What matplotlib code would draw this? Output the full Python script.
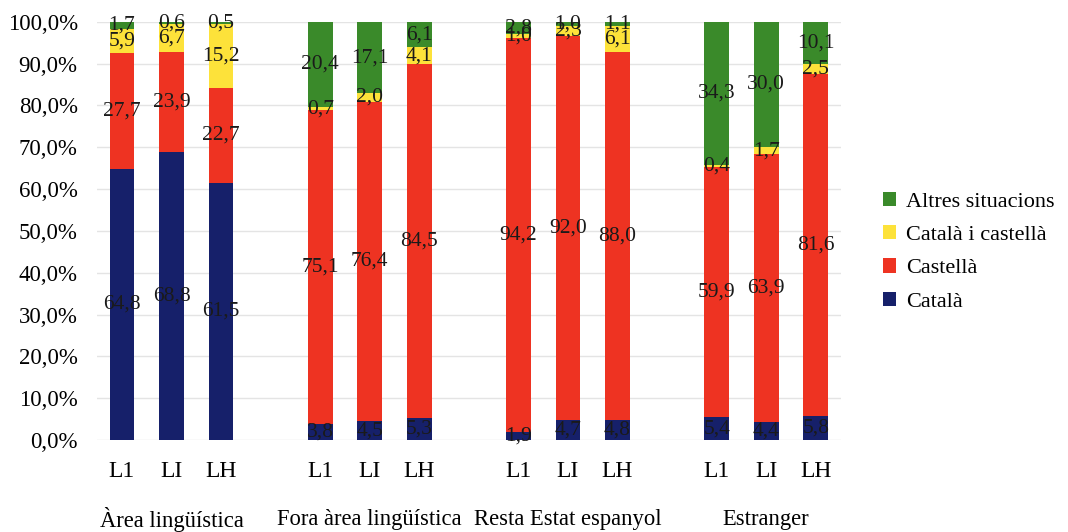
import matplotlib
matplotlib.use('Agg')
import matplotlib.pyplot as plt
from matplotlib.ticker import FuncFormatter

plt.rcParams['font.family'] = ['Liberation Serif', 'DejaVu Serif']

# Llengua segons l'origen: L1, LI, LH per a cada grup
groups = ['Àrea lingüística', 'Fora àrea lingüística', 'Resta Estat espanyol', 'Estranger']
bar_names = ['L1', 'LI', 'LH']

catala = [64.8, 68.8, 61.5,
          3.8, 4.5, 5.3,
          1.9, 4.7, 4.8,
          5.4, 4.4, 5.8]
castella = [27.7, 23.9, 22.7,
            75.1, 76.4, 84.5,
            94.2, 92.0, 88.0,
            59.9, 63.9, 81.6]
cat_i_cast = [5.9, 6.7, 15.2,
              0.7, 2.0, 4.1,
              1.0, 2.3, 6.1,
              0.4, 1.7, 2.5]
altres = [1.7, 0.6, 0.5,
          20.4, 17.1, 6.1,
          2.8, 1.0, 1.1,
          34.3, 30.0, 10.1]

series = [('Català', catala, '#16206a'),
          ('Castellà', castella, '#ee3322'),
          ('Català i castellà', cat_i_cast, '#fde23a'),
          ('Altres situacions', altres, '#3a8a2a')]

# posicions: tres barres per grup i un buit entre grups
xpos = []
for g in range(len(groups)):
    for b in range(len(bar_names)):
        xpos.append(g * 4 + b)

fig = plt.figure(figsize=(10.68, 5.32), dpi=100)
ax = fig.add_axes([0.091, 0.173, 0.696, 0.786])

bottoms = [0.0] * len(xpos)
handles = []
for name, vals, color in series:
    h = ax.bar(xpos, vals, width=0.5, bottom=bottoms, color=color, label=name, zorder=2)
    handles.append(h)
    for i in range(len(xpos)):
        ax.text(xpos[i], bottoms[i] + vals[i] / 2.0, ('%.1f' % vals[i]).replace('.', ','),
                ha='center', va='center', fontsize=15.5, color='#1a1a1a', zorder=3)
        bottoms[i] = bottoms[i] + vals[i]

ax.set_xlim(-0.5, 14.5)
ax.set_ylim(0, 100)
ax.set_yticks(range(0, 101, 10))
ax.yaxis.set_major_formatter(FuncFormatter(lambda v, p: ('%.1f%%' % v).replace('.', ',')))
ax.tick_params(axis='y', length=0, labelsize=16.5, pad=14)
ax.grid(axis='y', color='#e4e4e4', linewidth=1, zorder=0)
for s in ax.spines.values():
    s.set_visible(False)

ax.set_xticks(xpos)
ax.set_xticklabels(bar_names * len(groups), fontsize=17)
ax.tick_params(axis='x', length=0, pad=15)

for g in range(len(groups)):
    ax.text(g * 4 + 1, -0.19, groups[g], transform=ax.get_xaxis_transform(),
            ha='center', va='center', fontsize=16.3)

leg = ax.legend(handles[::-1], [s[0] for s in series][::-1], loc='center left',
                bbox_to_anchor=(1.03, 0.45), frameon=False, fontsize=16,
                handlelength=0.6, handleheight=0.6, handletextpad=0.45, labelspacing=0.6)

fig.savefig('out.png', dpi=100)
